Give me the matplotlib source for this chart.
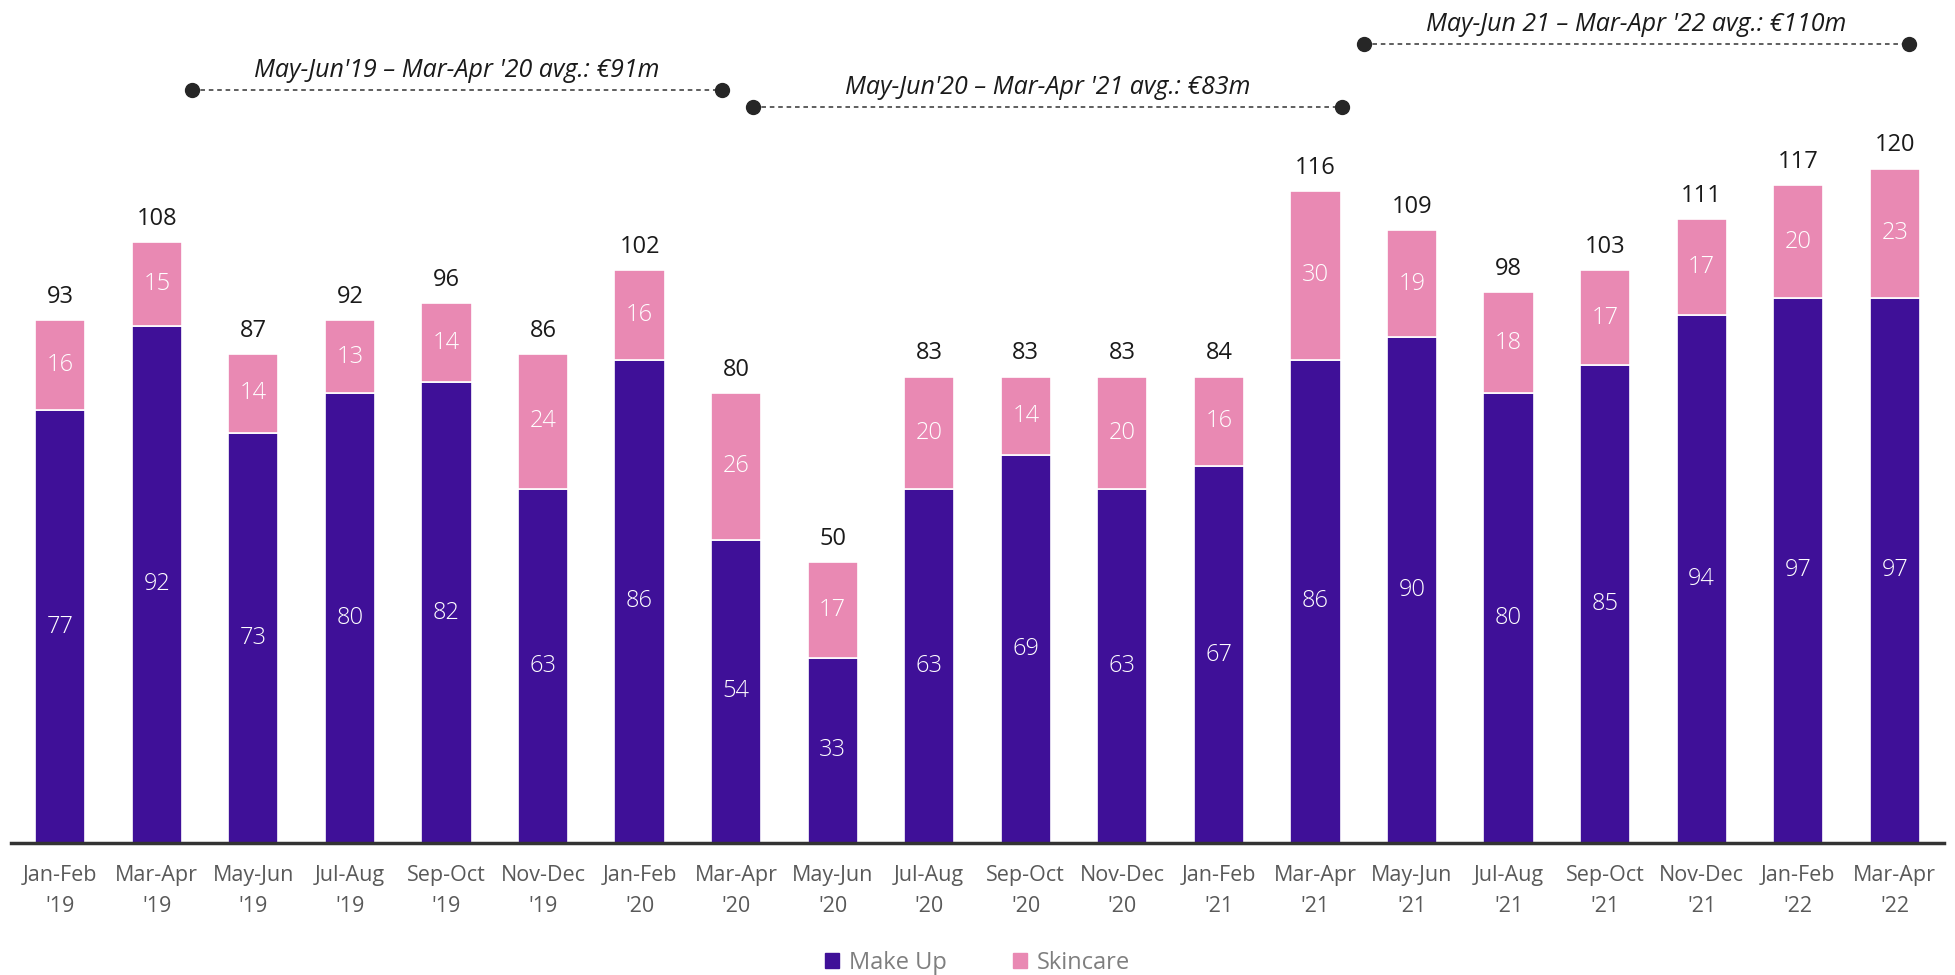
import numpy as np
import matplotlib.pyplot as plt
from matplotlib.patches import Patch

plt.rcParams['font.family'] = ['Open Sans', 'DejaVu Sans']

periods = ["Jan-Feb\n'19", "Mar-Apr\n'19", "May-Jun\n'19", "Jul-Aug\n'19", "Sep-Oct\n'19",
           "Nov-Dec\n'19", "Jan-Feb\n'20", "Mar-Apr\n'20", "May-Jun\n'20", "Jul-Aug\n'20",
           "Sep-Oct\n'20", "Nov-Dec\n'20", "Jan-Feb\n'21", "Mar-Apr\n'21", "May-Jun\n'21",
           "Jul-Aug\n'21", "Sep-Oct\n'21", "Nov-Dec\n'21", "Jan-Feb\n'22", "Mar-Apr\n'22"]
make_up = [77, 92, 73, 80, 82, 63, 86, 54, 33, 63, 69, 63, 67, 86, 90, 80, 85, 94, 97, 97]
skincare = [16, 15, 14, 13, 14, 24, 16, 26, 17, 20, 14, 20, 16, 30, 19, 18, 17, 17, 20, 23]
totals = [93, 108, 87, 92, 96, 86, 102, 80, 50, 83, 83, 83, 84, 116, 109, 98, 103, 111, 117, 120]

# average bands: (start x, end x, line y, label)
avg_bands = [
    (1.36, 6.85, 134, "May-Jun'19 \u2013 Mar-Apr '20 avg.: \u20ac91m"),
    (7.18, 13.28, 131, "May-Jun'20 \u2013 Mar-Apr '21 avg.: \u20ac83m"),
    (13.5, 19.15, 142.2, "May-Jun 21 \u2013 Mar-Apr '22 avg.: \u20ac110m"),
]

c_make = '#3F1098'
c_skin = '#E989B3'

fig = plt.figure(figsize=(19.55, 9.75), dpi=100)
ax = fig.add_axes([11 / 1955, 0.1354, 1933 / 1955, 0.8646])

x = np.arange(len(periods))
w = 0.52
ax.bar(x, make_up, w, color=c_make, edgecolor='white', linewidth=1.2, label='Make Up')
ax.bar(x, skincare, w, bottom=make_up, color=c_skin, edgecolor='white', linewidth=1.2,
       label='Skincare')

for i in range(len(x)):
    ax.text(x[i], make_up[i] / 2, str(make_up[i]), ha='center', va='center',
            color='white', fontsize=17, fontweight='light')
    ax.text(x[i], make_up[i] + skincare[i] / 2, str(skincare[i]), ha='center', va='center',
            color='white', fontsize=17, fontweight='light')
    ax.annotate(str(totals[i]), (x[i], make_up[i] + skincare[i]), xytext=(0, 8),
                textcoords='offset points', ha='center', va='bottom',
                color='#1a1a1a', fontsize=17)

for x0, x1, y, label in avg_bands:
    ax.plot([x0, x1], [y, y], color='#333333', linestyle=(0, (3, 2.5)), linewidth=1.1)
    ax.plot([x0, x1], [y, y], 'o', color='#262626', markersize=10)
    ax.text((x0 + x1) / 2, y + 1.2, label, ha='center', va='bottom',
            fontsize=18, style='italic', color='#1a1a1a')

ax.set_xlim(-0.51, 19.51)
ax.set_ylim(0, 150)
ax.set_xticks(x)
ax.set_xticklabels(periods, fontsize=15.5, color='#595959', linespacing=1.6)
ax.tick_params(axis='x', length=0, pad=16)
ax.set_yticks([])
for s in ['top', 'right', 'left']:
    ax.spines[s].set_visible(False)
ax.spines['bottom'].set_color('#333333')
ax.spines['bottom'].set_linewidth(2.5)

handles = [Patch(color=c_make, label='Make Up'), Patch(color=c_skin, label='Skincare')]
fig.legend(handles=handles, loc='center', bbox_to_anchor=(0.5, 0.012), ncol=2, frameon=False,
           fontsize=17, labelcolor='#7f7f7f', handlelength=0.6, handleheight=0.6,
           handletextpad=0.4, columnspacing=2.8)

fig.savefig('out.png', dpi=100)
